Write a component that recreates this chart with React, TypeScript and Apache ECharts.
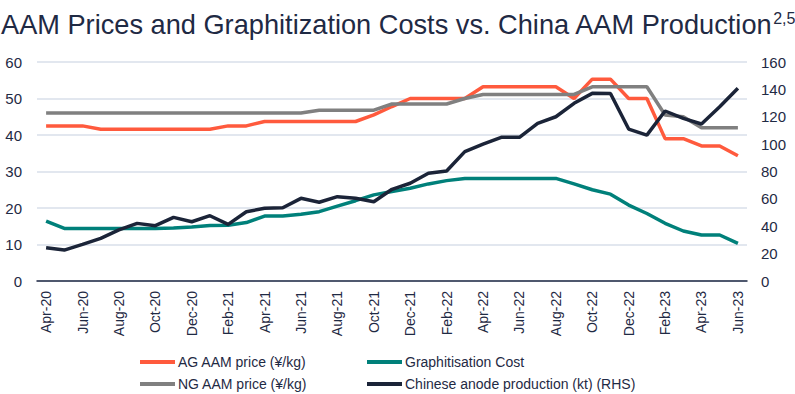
import React, { useEffect, useRef } from "react";
import * as echarts from "echarts";

const months = [
  "Apr-20","May-20","Jun-20","Jul-20","Aug-20","Sep-20","Oct-20","Nov-20","Dec-20",
  "Jan-21","Feb-21","Mar-21","Apr-21","May-21","Jun-21","Jul-21","Aug-21","Sep-21","Oct-21","Nov-21","Dec-21",
  "Jan-22","Feb-22","Mar-22","Apr-22","May-22","Jun-22","Jul-22","Aug-22","Sep-22","Oct-22","Nov-22","Dec-22",
  "Jan-23","Feb-23","Mar-23","Apr-23","May-23","Jun-23",
];

const agPrice = [
  42.5, 42.5, 42.5, 41.6, 41.6, 41.6, 41.6, 41.6, 41.6, 41.6, 42.5, 42.5, 43.7,
  43.7, 43.7, 43.7, 43.7, 43.7, 45.5, 47.8, 50, 50, 50, 50, 53.2, 53.2, 53.2,
  53.2, 53.2, 50, 55.3, 55.3, 50, 50, 39, 39, 37, 37, 34.3,
];

const ngPrice = [
  46, 46, 46, 46, 46, 46, 46, 46, 46, 46, 46, 46, 46, 46, 46, 46.8, 46.8, 46.8,
  46.8, 48.5, 48.5, 48.5, 48.5, 50, 51.1, 51.1, 51.1, 51.1, 51.1, 51.1, 53.2,
  53.2, 53.2, 53.2, 45.5, 45, 42, 42, 42,
];

const graphCost = [
  16.4, 14.4, 14.4, 14.4, 14.4, 14.4, 14.4, 14.5, 14.8, 15.2, 15.3, 16, 17.8,
  17.8, 18.3, 19, 20.5, 22, 23.6, 24.5, 25.4, 26.6, 27.5, 28.1, 28.1, 28.1,
  28.1, 28.1, 28.1, 26.6, 25, 23.8, 20.8, 18.5, 15.8, 13.7, 12.6, 12.6, 10.3,
];

const production = [
  24.3, 22.6, 26.8, 31.2, 37.3, 42.1, 40.4, 46.5, 43.3, 47.7, 41.4, 50.6, 53.1,
  53.5, 60.4, 57.5, 61.6, 60.4, 57.9, 67, 71.4, 78.7, 80.4, 94.5, 100, 105, 105,
  115.2, 120, 129.8, 137.1, 137, 111, 106.6, 124.2, 118.8, 114.7, 127.3, 140.8,
];

const seriesNames = [
  "AG AAM price (¥/kg)",
  "NG AAM price (¥/kg)",
  "Graphitisation Cost",
  "Chinese anode production (kt) (RHS)",
];

const FONT = "Liberation Sans, Arial, sans-serif";
const TXT = "#1f2a44";

export default function App() {
  const ref = useRef<HTMLDivElement>(null);
  useEffect(() => {
    const chart = echarts.init(ref.current!, null, { renderer: "svg" });
    const line = (name: string, data: number[], color: string, yAxisIndex = 0) => ({
      name,
      type: "line",
      data,
      yAxisIndex,
      symbol: "none",
      lineStyle: { color, width: 3.5 },
      itemStyle: { color },
    });
    const legendPos = [
      { left: 140, top: 355 },
      { left: 140, top: 377 },
      { left: 367, top: 355 },
      { left: 367, top: 377 },
    ];
    chart.setOption({
      animation: false,
      textStyle: { fontFamily: FONT },
      title: {
        text: "AAM Prices and Graphitization Costs vs. China AAM Production{s|2,5}",
        left: 1,
        top: 10,
        padding: 0,
        textStyle: {
          fontFamily: FONT,
          fontSize: 27.2,
          fontWeight: "normal",
          color: TXT,
          rich: { s: { fontSize: 16, verticalAlign: "top", color: TXT, padding: [0, 0, 12, 0] } },
        },
      },
      grid: { left: 37, right: 48, top: 62, bottom: 113, containLabel: false },
      legend: seriesNames.map((n, i) => ({
        data: [n],
        left: legendPos[i].left,
        top: legendPos[i].top,
        padding: 0,
        icon: "rect",
        itemWidth: 35,
        itemHeight: 4,
        textStyle: { fontSize: 14, color: TXT, fontFamily: FONT, padding: [0, 0, 0, -2] },
      })),
      xAxis: {
        type: "category",
        data: months,
        boundaryGap: true,
        axisLine: { lineStyle: { color: TXT, width: 1.5 } },
        axisTick: { show: false },
        axisLabel: {
          interval: 1,
          rotate: 90,
          fontSize: 14,
          color: TXT,
          margin: 10,
          fontFamily: FONT,
        },
      },
      yAxis: [
        {
          type: "value",
          min: 0,
          max: 60,
          interval: 10,
          axisLine: { show: false },
          axisTick: { show: false },
          axisLabel: { fontSize: 15, color: TXT, margin: 15, fontFamily: FONT },
          splitLine: { lineStyle: { color: "#d9dfea", width: 1.5 } },
        },
        {
          type: "value",
          min: 0,
          max: 160,
          interval: 20,
          position: "right",
          axisLine: { show: false },
          axisTick: { show: false },
          axisLabel: { fontSize: 15, color: TXT, margin: 14, fontFamily: FONT },
          splitLine: { show: false },
        },
      ],
      series: [
        line(seriesNames[0], agPrice, "#ff5a3d"),
        line(seriesNames[1], ngPrice, "#808080"),
        line(seriesNames[2], graphCost, "#00807a"),
        line(seriesNames[3], production, "#1b2438", 1),
      ],
    });
    return () => chart.dispose();
  }, []);
  return <div ref={ref} style={{ width: 795, height: 394, position: "absolute", left: 0, top: 0 }} />;
}
